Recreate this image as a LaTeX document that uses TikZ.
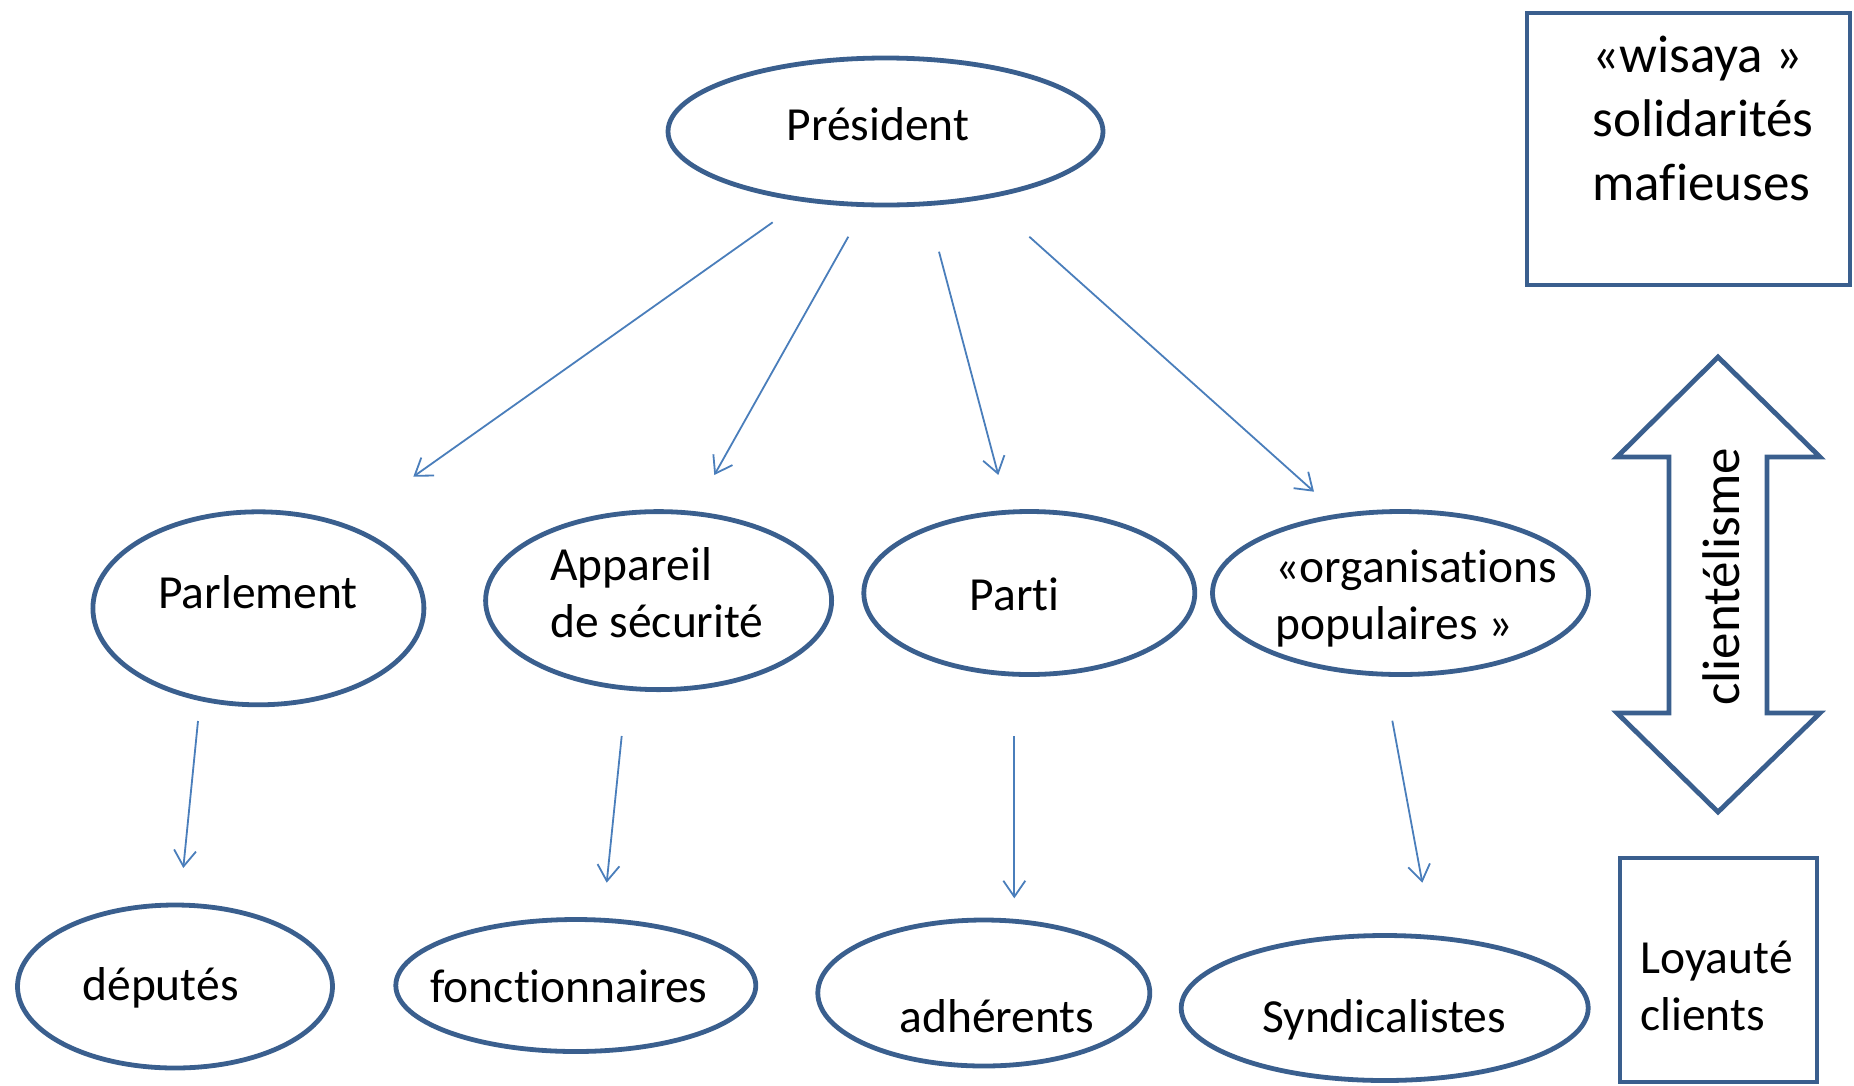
\documentclass[tikz,border=0pt]{standalone}
\usepackage{fontspec}
\setmainfont{Carlito}[Ligatures={TeX,NoCommon}]
\usetikzlibrary{shapes.geometric,arrows.meta}
\definecolor{contour}{HTML}{3A5F8E}
\definecolor{trait}{HTML}{4A7EBB}
\tikzset{every picture/.style={line width=0.75pt}}

\begin{document}
\begin{tikzpicture}[x=1pt,y=1pt,yscale=-1,xscale=1,
  ell/.style={ellipse,draw=contour,line width=4.8pt,inner sep=0pt},
  boite/.style={rectangle,draw=contour,line width=4.8pt,inner sep=0pt},
  fleche/.style={draw=trait,line width=1.8pt,-{Straight Barb[length=16pt,width=22pt]}},
  txt/.style={inner sep=0pt,font=\fontsize{47.5}{57}\selectfont,align=left},
  grand/.style={inner sep=0pt,font=\fontsize{53}{64}\selectfont,align=left}]
\useasboundingbox (0,0) rectangle (1854,1085);

%Shape: Ellipse [Président]
\node[ell,minimum width=435pt,minimum height=147pt] (pres) at (885.5,131.5) {};
\node[txt,anchor=base] (tpres) at (878,140) {Président};

%Shape: Ellipse [second rang]
\node[ell,minimum width=331pt,minimum height=193pt] (parl) at (258.4,608.3) {};
\node[ell,minimum width=346pt,minimum height=178pt] (app) at (658.6,600.6) {};
\node[ell,minimum width=331pt,minimum height=163pt] (parti) at (1029.3,593) {};
\node[ell,minimum width=376pt,minimum height=163pt] (orga) at (1400.5,593) {};
\node[txt,anchor=base] (tparl) at (258,608) {Parlement};
\node[txt,anchor=base west] (tapp) at (550,637) {Appareil\\de sécurité};
\node[txt,anchor=base west] (tparti) at (969.5,610) {Parti};
\node[txt,anchor=base west] (torga) at (1275,639) {«organisations\\populaires »};

%Shape: Ellipse [troisième rang]
\node[ell,minimum width=315pt,minimum height=163pt] (dep) at (175,986.5) {};
\node[ell,minimum width=360pt,minimum height=132pt] (fonc) at (575.8,985.5) {};
\node[ell,minimum width=332pt,minimum height=146pt] (adh) at (983.8,993) {};
\node[ell,minimum width=407pt,minimum height=145pt] (synd) at (1384.7,1008) {};
\node[txt,anchor=base] (tdep) at (160.5,1000) {députés};
\node[txt,anchor=base] (tfonc) at (569,1002) {fonctionnaires};
\node[txt,anchor=base] (tadh) at (997,1032) {adhérents};
\node[txt,anchor=base] (tsynd) at (1384,1032) {Syndicalistes};

%Straight Lines [flèches]
\coordinate (s1) at (772.7,222.3); \coordinate (t1) at (413.3,476.7);
\coordinate (s2) at (848.3,236.7); \coordinate (t2) at (714.3,475);
\coordinate (s3) at (939,251.7);   \coordinate (t3) at (998.3,475);
\coordinate (s4) at (1029.3,236.7); \coordinate (t4) at (1314,491.7);
\coordinate (s5) at (198,721);     \coordinate (t5) at (183.3,868);
\coordinate (s6) at (621.7,736);   \coordinate (t6) at (606.7,882.7);
\coordinate (s7) at (1014.3,736);  \coordinate (t7) at (1014.3,898.3);
\coordinate (s8) at (1392.3,720.7); \coordinate (t8) at (1422.3,882.7);
\draw[fleche] (s1) -- (t1);
\draw[fleche] (s2) -- (t2);
\draw[fleche] (s3) -- (t3);
\draw[fleche] (s4) -- (t4);
\draw[fleche] (s5) -- (t5);
\draw[fleche] (s6) -- (t6);
\draw[fleche] (s7) -- (t7);
\draw[fleche] (s8) -- (t8);

%Shape: Rectangle [wisaya]
\node[boite,minimum width=323pt,minimum height=272pt] (wisaya) at (1688.5,149) {};
\node[grand,anchor=base west] (twis) at (1592,200) {«wisaya »\\solidarités\\mafieuses};

%Shape: Up Down Arrow
\draw[draw=contour,line width=4.8pt] (1718,357) -- (1820,457) -- (1767,457) -- (1767,713) -- (1820,713) -- (1718,812) -- (1617,713) -- (1669,713) -- (1669,457) -- (1617,457) -- cycle;
\node[grand,rotate=90] (tcli) at (1721,577) {clientélisme};

%Shape: Rectangle [Loyauté]
\node[boite,minimum width=197pt,minimum height=224pt] (loyaute) at (1718.5,970) {};
\node[txt,anchor=base west] (tloy) at (1640,1030) {Loyauté\\clients};

\end{tikzpicture}
\end{document}
